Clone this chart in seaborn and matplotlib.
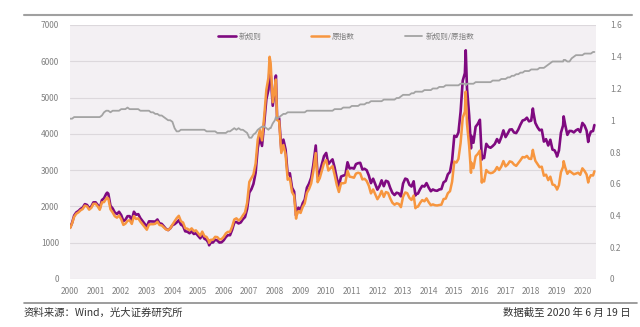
import numpy as np
import pandas as pd
import matplotlib
matplotlib.use("Agg")
import matplotlib.pyplot as plt
import matplotlib.ticker as mticker
from matplotlib.lines import Line2D
import seaborn as sns

# ---------------- data ----------------
# monthly observations, Jan 2000 .. May 2020 (month ends)
orig_monthly = [
    1535, 1714, 1800, 1836, 1894, 1928, 2023, 2001, 1910, 1961, 2071, 2073,   # 2000
    1997, 1908, 2112, 2119, 2214, 2218, 1920, 1834, 1731, 1690, 1748, 1646,   # 2001
    1491, 1524, 1603, 1619, 1518, 1733, 1654, 1671, 1581, 1508, 1435, 1358,   # 2002
    1499, 1511, 1510, 1521, 1577, 1487, 1477, 1422, 1367, 1348, 1397, 1497,   # 2003
    1590, 1675, 1742, 1595, 1555, 1399, 1386, 1342, 1396, 1320, 1340, 1266,   # 2004
    1191, 1306, 1181, 1159, 1060, 1080, 1083, 1162, 1155, 1092, 1099, 1161,   # 2005
    1258, 1299, 1298, 1440, 1641, 1672, 1612, 1658, 1752, 1837, 2099, 2675,   # 2006
    2786, 2881, 3183, 3841, 4109, 3820, 4471, 5218, 5552, 5954, 4871, 5262,   # 2007
    4383, 4348, 3473, 3693, 3433, 2736, 2775, 2397, 2293, 1729, 1871, 1821,   # 2008
    1991, 2082, 2374, 2477, 2633, 2959, 3412, 2667, 2779, 2996, 3195, 3277,   # 2009
    2989, 3051, 3110, 2871, 2592, 2398, 2638, 2638, 2656, 2979, 2820, 2808,   # 2010
    2791, 2905, 2928, 2911, 2743, 2762, 2701, 2568, 2359, 2468, 2333, 2199,   # 2011
    2292, 2428, 2263, 2396, 2373, 2225, 2103, 2047, 2086, 2069, 1980, 2269,   # 2012
    2385, 2366, 2237, 2178, 2301, 1979, 1994, 2098, 2175, 2141, 2221, 2116,   # 2013
    2033, 2056, 2033, 2026, 2039, 2048, 2202, 2217, 2364, 2420, 2683, 3235,   # 2014
    3210, 3310, 3748, 4442, 4612, 4277, 3664, 3206, 3053, 3383, 3445, 3539,   # 2015
    2738, 2688, 3004, 2938, 2917, 2930, 2979, 3085, 3005, 3100, 3250, 3104,   # 2016
    3159, 3242, 3223, 3155, 3117, 3192, 3273, 3361, 3349, 3393, 3317, 3307,   # 2017
    3481, 3259, 3169, 3082, 3095, 2847, 2876, 2725, 2821, 2603, 2588, 2494,   # 2018
    2585, 2941, 3091, 3078, 2899, 2979, 2933, 2886, 2905, 2929, 2872, 3050,   # 2019
    2977, 2880, 2750, 2860, 2852,                                             # 2020
]
new_monthly = [
    1550, 1748, 1836, 1873, 1932, 1967, 2063, 2041, 1948, 2000, 2112, 2114,   # 2000
    2037, 1946, 2175, 2225, 2347, 2351, 2016, 1944, 1835, 1791, 1853, 1761,   # 2001
    1595, 1631, 1731, 1732, 1624, 1854, 1770, 1788, 1676, 1598, 1521, 1439,   # 2002
    1589, 1587, 1586, 1582, 1640, 1532, 1521, 1450, 1381, 1348, 1397, 1482,   # 2003
    1511, 1558, 1620, 1499, 1462, 1315, 1303, 1261, 1312, 1241, 1260, 1190,   # 2004
    1120, 1228, 1110, 1078, 986, 1004, 1007, 1081, 1063, 1005, 1011, 1068,    # 2005
    1157, 1208, 1207, 1354, 1559, 1572, 1531, 1559, 1647, 1708, 1931, 2381,   # 2006
    2480, 2622, 2928, 3611, 3904, 3667, 4292, 4957, 5219, 5656, 4774, 5262,   # 2007
    4427, 4435, 3577, 3841, 3570, 2873, 2914, 2517, 2408, 1815, 1965, 1912,   # 2008
    2091, 2186, 2516, 2626, 2791, 3137, 3617, 2827, 2946, 3176, 3387, 3474,   # 2009
    3168, 3234, 3297, 3072, 2773, 2566, 2823, 2849, 2868, 3217, 3046, 3061,   # 2010
    3042, 3166, 3192, 3202, 3017, 3038, 2998, 2850, 2642, 2764, 2613, 2463,   # 2011
    2567, 2719, 2557, 2707, 2681, 2514, 2376, 2313, 2378, 2359, 2277, 2632,   # 2012
    2767, 2745, 2595, 2548, 2692, 2335, 2353, 2476, 2567, 2548, 2643, 2518,   # 2013
    2419, 2467, 2440, 2431, 2467, 2478, 2664, 2705, 2884, 2952, 3273, 3947,   # 2014
    3916, 4038, 4610, 5464, 5673, 5261, 4507, 3943, 3755, 4195, 4272, 4388,   # 2015
    3395, 3333, 3725, 3643, 3617, 3663, 3724, 3856, 3756, 3906, 4095, 3911,   # 2016
    4012, 4117, 4125, 4038, 4021, 4118, 4255, 4369, 4387, 4445, 4345, 4365,   # 2017
    4595, 4302, 4183, 4099, 4116, 3787, 3854, 3679, 3837, 3566, 3546, 3417,   # 2018
    3541, 4029, 4235, 4248, 3972, 4081, 4077, 4040, 4096, 4130, 4050, 4301,   # 2019
    4227, 4090, 3905, 4061, 4078,                                             # 2020
]
ratio_monthly = [
    1.01, 1.02, 1.02, 1.02, 1.02, 1.02, 1.02, 1.02, 1.02, 1.02, 1.02, 1.02,   # 2000
    1.02, 1.02, 1.03, 1.05, 1.06, 1.06, 1.05, 1.06, 1.06, 1.06, 1.06, 1.07,   # 2001
    1.07, 1.07, 1.08, 1.07, 1.07, 1.07, 1.07, 1.07, 1.06, 1.06, 1.06, 1.06,   # 2002
    1.06, 1.05, 1.05, 1.04, 1.04, 1.03, 1.03, 1.02, 1.01, 1.00, 1.00, 0.99,   # 2003
    0.95, 0.93, 0.93, 0.94, 0.94, 0.94, 0.94, 0.94, 0.94, 0.94, 0.94, 0.94,   # 2004
    0.94, 0.94, 0.94, 0.93, 0.93, 0.93, 0.93, 0.93, 0.92, 0.92, 0.92, 0.92,   # 2005
    0.92, 0.93, 0.93, 0.94, 0.95, 0.94, 0.95, 0.94, 0.94, 0.93, 0.92, 0.89,   # 2006
    0.89, 0.91, 0.92, 0.94, 0.95, 0.96, 0.96, 0.95, 0.94, 0.95, 0.98, 1.00,   # 2007
    1.01, 1.02, 1.03, 1.04, 1.04, 1.05, 1.05, 1.05, 1.05, 1.05, 1.05, 1.05,   # 2008
    1.05, 1.05, 1.06, 1.06, 1.06, 1.06, 1.06, 1.06, 1.06, 1.06, 1.06, 1.06,   # 2009
    1.06, 1.06, 1.06, 1.07, 1.07, 1.07, 1.07, 1.08, 1.08, 1.08, 1.08, 1.09,   # 2010
    1.09, 1.09, 1.09, 1.10, 1.10, 1.10, 1.11, 1.11, 1.12, 1.12, 1.12, 1.12,   # 2011
    1.12, 1.12, 1.13, 1.13, 1.13, 1.13, 1.13, 1.13, 1.14, 1.14, 1.15, 1.16,   # 2012
    1.16, 1.16, 1.16, 1.17, 1.17, 1.18, 1.18, 1.18, 1.18, 1.19, 1.19, 1.19,   # 2013
    1.19, 1.20, 1.20, 1.20, 1.21, 1.21, 1.21, 1.22, 1.22, 1.22, 1.22, 1.22,   # 2014
    1.22, 1.22, 1.23, 1.23, 1.23, 1.23, 1.23, 1.23, 1.23, 1.24, 1.24, 1.24,   # 2015
    1.24, 1.24, 1.24, 1.24, 1.24, 1.25, 1.25, 1.25, 1.25, 1.26, 1.26, 1.26,   # 2016
    1.27, 1.27, 1.28, 1.28, 1.29, 1.29, 1.30, 1.30, 1.31, 1.31, 1.31, 1.32,   # 2017
    1.32, 1.32, 1.32, 1.33, 1.33, 1.33, 1.34, 1.35, 1.36, 1.37, 1.37, 1.37,   # 2018
    1.37, 1.37, 1.37, 1.38, 1.37, 1.37, 1.39, 1.40, 1.41, 1.41, 1.41, 1.41,   # 2019
    1.42, 1.42, 1.42, 1.42, 1.43,                                             # 2020
]

# extra daily observations (turning points, first and last day)
extra_dates = ["2000-01-04", "2001-06-14", "2005-06-06", "2007-10-16", "2008-01-14",
               "2008-10-28", "2009-08-04", "2013-06-25", "2015-06-12", "2015-08-26",
               "2016-01-28", "2018-01-24", "2019-01-03", "2019-04-08", "2020-03-23",
               "2020-06-19"]
extra_orig = [1406, 2245, 998, 6124, 5497, 1664, 3471, 1951, 5166, 2927,
              2656, 3559, 2464, 3247, 2660, 2967]
extra_new = [1420, 2380, 928, 5818, 5607, 1747, 3679, 2302, 6303, 3600,
             3293, 4698, 3376, 4481, 3777, 4243]
extra_ratio = [1.01, 1.06, 0.93, 0.95, 1.02, 1.05, 1.06, 1.18, 1.22, 1.23,
               1.24, 1.32, 1.37, 1.38, 1.42, 1.43]

series_names = ["新规则", "原指数", "新规则/原指数"]
year_labels = [str(y) for y in range(2000, 2021)]
left_ticks = [0, 1000, 2000, 3000, 4000, 5000, 6000, 7000]
right_ticks = [0, 0.2, 0.4, 0.6, 0.8, 1.0, 1.2, 1.4, 1.6]
footer_left = "资料来源：Wind，光大证券研究所"
footer_right = "数据截至 2020 年 6 月 19 日"

# ---------------- table ----------------
month_dates = pd.date_range("2000-01-31", periods=len(orig_monthly), freq="ME")
df = pd.concat([
    pd.DataFrame({"date": month_dates, "orig": orig_monthly,
                  "new": new_monthly, "ratio": ratio_monthly}),
    pd.DataFrame({"date": pd.to_datetime(extra_dates), "orig": extra_orig,
                  "new": extra_new, "ratio": extra_ratio}),
]).sort_values("date").reset_index(drop=True)

# ---------------- style ----------------
sns.set_theme(style="white")
plt.rcParams["font.family"] = ["Noto Sans CJK SC", "DejaVu Sans"]

purple = "#7f0a80"
orange = "#f7963f"
gray = "#a3a3a3"
tick_col = "#808080"

fig = plt.figure(figsize=(6.4, 3.27), dpi=100)
fig.patch.set_facecolor("white")
W, H = 640, 327
L, R, T, B = 70, 596, 25, 279
ax = fig.add_axes([L / W, 1 - B / H, (R - L) / W, (B - T) / H])
ax.set_facecolor("#f3f0f3")

sns.lineplot(data=df, x="date", y="new", ax=ax, color=purple, linewidth=1.9,
             label=series_names[0], legend=False)
sns.lineplot(data=df, x="date", y="orig", ax=ax, color=orange, linewidth=1.8,
             label=series_names[1], legend=False)
ax2 = ax.twinx()
sns.lineplot(data=df, x="date", y="ratio", ax=ax2, color=gray, linewidth=1.3,
             label=series_names[2], legend=False)

ax.set_ylim(0, 7000)
ax2.set_ylim(0, 1.6)
ax.set_xlim(pd.Timestamp("2000-01-01"), pd.Timestamp("2020-07-12"))
ax.set_yticks(left_ticks)
ax2.set_yticks(right_ticks)
ax2.yaxis.set_major_formatter(mticker.FuncFormatter(lambda v, p: f"{v:g}"))
ax.set_xticks([pd.Timestamp(f"{y}-01-01") for y in year_labels])
ax.set_xticklabels(year_labels)

ax.grid(axis="y", color="#dcd8dc", linewidth=0.8)
ax.grid(axis="x", visible=False)
ax2.grid(False)
ax.set_axisbelow(True)
for a in (ax, ax2):
    for s in a.spines.values():
        s.set_visible(False)
    a.set_xlabel("")
    a.set_ylabel("")
ax.tick_params(axis="both", length=0, labelsize=6, labelcolor=tick_col)
ax.tick_params(axis="y", pad=8)
ax.tick_params(axis="x", pad=6)
ax2.tick_params(axis="y", length=0, labelsize=6, labelcolor=tick_col, pad=10)

h1, l1 = ax.get_legend_handles_labels()
h2, l2 = ax2.get_legend_handles_labels()
leg = ax2.legend(h1 + h2, l1 + l2, loc="center", bbox_to_anchor=(0.525, 0.953),
                 ncol=3, frameon=False, fontsize=5.5, handlelength=2.3,
                 handletextpad=0.4, columnspacing=6.5)
for t in leg.get_texts():
    t.set_color(tick_col)

# header / footer rules and source text
fig.add_artist(Line2D([24 / W, 632 / W], [1 - 15 / H] * 2, color="#a0a0a0", linewidth=1.5))
fig.add_artist(Line2D([24 / W, 637 / W], [1 - 303 / H] * 2, color="#8c8c8c", linewidth=1.2))
fig.text(24 / W, 1 - 313 / H, footer_left, ha="left", va="center", fontsize=7.5, color="#333333")
fig.text(631 / W, 1 - 313 / H, footer_right, ha="right", va="center", fontsize=7.5, color="#333333")

fig.savefig("out.png", dpi=100, facecolor="white")
